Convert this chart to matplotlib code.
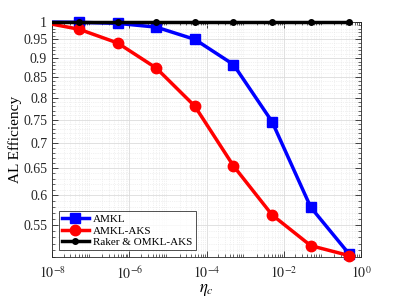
import numpy as np
import matplotlib
matplotlib.use("Agg")
import matplotlib.pyplot as plt
from matplotlib.ticker import FixedLocator, NullFormatter, LogLocator
from matplotlib.transforms import Bbox, TransformedBbox

plt.rcParams['font.family'] = ['Liberation Serif', 'DejaVu Serif']
plt.rcParams['mathtext.fontset'] = 'stix'

eta = [5e-9, 5e-8, 5e-7, 5e-6, 5e-5, 5e-4, 5e-3, 5e-2, 5e-1]
amkl = [1.0, 0.999, 0.996, 0.985, 0.950, 0.882, 0.745, 0.579, 0.504]
amkl_aks = [1.0, 0.979, 0.940, 0.873, 0.780, 0.654, 0.566, 0.517, 0.502]
raker = [1.0, 1.0, 1.0, 1.0, 1.0, 1.0, 1.0, 1.0, 1.0]
labels = ['AMKL', 'AMKL-AKS', 'Raker & OMKL-AKS']
yticks = [0.55, 0.6, 0.65, 0.7, 0.75, 0.8, 0.85, 0.9, 0.95, 1.0]
yticklabels = ['0.55', '0.6', '0.65', '0.7', '0.75', '0.8', '0.85', '0.9', '0.95', '1']

fig = plt.figure(figsize=(3.99, 2.99), dpi=100)
ax = fig.add_axes([52/399, 1 - 257/299, (361-52)/399, (257-22)/299])

clip = TransformedBbox(Bbox([[0, -0.03], [1, 1.03]]), ax.transAxes)
lines = []
lines += ax.plot(eta, amkl, color='#0000ff', lw=2.5, marker='s', ms=6.5, label=labels[0], zorder=3)
lines += ax.plot(eta, amkl_aks, color='#ff0000', lw=2.5, marker='o', ms=7.5, label=labels[1], zorder=4)
lines += ax.plot(eta, raker, color='black', lw=2.5, marker='o', ms=4, label=labels[2], zorder=5)
for ln in lines:
    ln.set_clip_box(clip)

ax.set_xscale('log')
ax.set_yscale('log')
ax.set_xlim(1e-8, 1)
ax.set_ylim(0.5, 1.0)

ax.xaxis.set_major_locator(FixedLocator([1e-8, 1e-6, 1e-4, 1e-2, 1]))
ax.set_xticklabels([r'$10^{-8}$', r'$10^{-6}$', r'$10^{-4}$', r'$10^{-2}$', r'$10^{0}$'])
ax.xaxis.set_minor_locator(LogLocator(base=10, subs=np.arange(2, 10), numticks=100))
ax.xaxis.set_minor_formatter(NullFormatter())

ax.yaxis.set_major_locator(FixedLocator(yticks))
ax.set_yticklabels(yticklabels)
ax.yaxis.set_minor_locator(FixedLocator(np.arange(0.50, 1.001, 0.01)))
ax.yaxis.set_minor_formatter(NullFormatter())

ax.tick_params(which='both', direction='in', top=True, right=True, labelsize=10, colors='#262626')
ax.tick_params(axis='x', which='major', pad=6)
ax.tick_params(which='major', length=4, width=0.6)
ax.tick_params(which='minor', length=2, width=0.5)
for s in ax.spines.values():
    s.set_color('#262626')
    s.set_linewidth(0.6)

ax.grid(True, which='major', color='#dcdcdc', lw=0.6)
ax.grid(True, which='minor', color='#e4e4e4', lw=0.5, ls=':')
ax.set_axisbelow(True)

ax.set_xlabel(r'$\eta_c$', fontsize=12, labelpad=0)
ax.set_ylabel('AL Efficiency', fontsize=11, labelpad=1)

leg = ax.legend(loc='lower left', fontsize=8, frameon=True, fancybox=False,
                edgecolor='black', handlelength=2.4, borderpad=0.3, labelspacing=0.15,
                handletextpad=0.4, borderaxespad=0.6)
leg.get_frame().set_linewidth(0.6)

fig.savefig('out.png', dpi=100)
